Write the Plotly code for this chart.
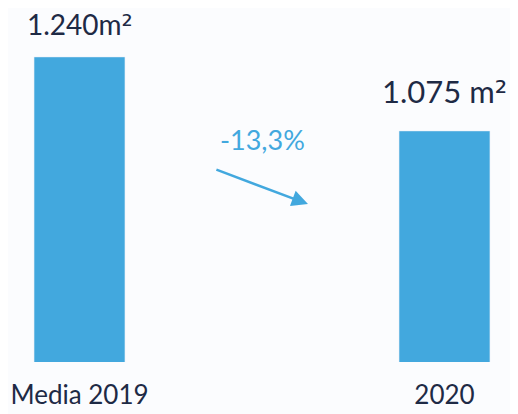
import plotly.graph_objects as go

categories = ["Media 2019", "2020"]
values = [1240, 1075]
value_labels = ["1.240m²", "1.075 m²"]

BLUE = "#42A8DE"
NAVY = "#1E2A45"
BG = "#FBFCFE"


def sq(label):
    # draw the superscript two with a font whose ² is closer to the original
    return label.replace("²", "<span style='font-family:DejaVu Sans'>²</span>")


def main():
    change = (values[1] - values[0]) / values[0] * 100
    change_text = f"{change:.1f}%".replace(".", ",")

    fig = go.Figure()
    fig.add_trace(go.Bar(
        x=categories,
        y=values,
        marker_color=BLUE,
        width=0.249,
        hoverinfo="skip",
    ))

    # value labels above each bar (use index so "2020" isn't read as a position)
    sizes = [28, 31]
    shifts = [13, 19]
    for i, (val, lab, s, sh) in enumerate(zip(values, value_labels, sizes, shifts)):
        fig.add_annotation(
            x=i, y=val, text=sq(lab), showarrow=False,
            yanchor="bottom", yshift=sh,
            font=dict(size=s, color=NAVY, family="Lato"),
        )

    # change label and arrow between the bars
    fig.add_annotation(
        x=0.5, y=1055, text=change_text, showarrow=False,
        font=dict(size=27, color=BLUE, family="Lato"),
    )
    fig.add_annotation(
        x=0.626, y=912, ax=0.371, ay=990,
        xref="x", yref="y", axref="x", ayref="y",
        text="", showarrow=True,
        arrowhead=2, arrowsize=1.3, arrowwidth=2.5, arrowcolor=BLUE,
    )

    fig.update_layout(
        width=510, height=406,
        margin=dict(l=0, r=0, t=0, b=52),
        paper_bgcolor=BG, plot_bgcolor=BG,
        showlegend=False,
        font=dict(family="Lato", color=NAVY),
    )
    fig.update_xaxes(
        range=[-0.1959, 1.2014], showgrid=False, zeroline=False,
        showline=False, ticks="", ticklabelstandoff=15, automargin=False,
        tickfont=dict(size=26, color=NAVY),
    )
    fig.update_yaxes(
        range=[559.9, 1349.2], visible=False, automargin=False,
    )
    fig.write_html("out.html")


if __name__ == "__main__":
    main()
